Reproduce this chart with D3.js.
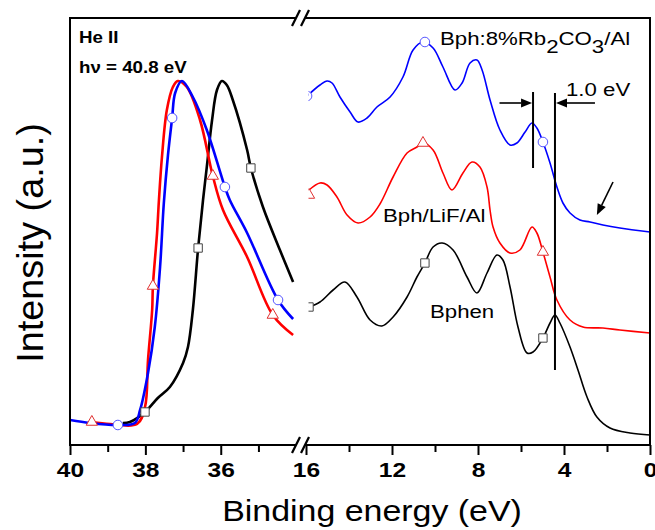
<!DOCTYPE html>
<html>
<head>
<meta charset="utf-8">
<script src="https://cdn.jsdelivr.net/npm/d3@7"></script>
<style>
  body { margin: 0; background: #fff; }
  svg { display: block; font-family: "Liberation Sans", Arial, sans-serif; }
</style>
</head>
<body>
<div id="chart"></div>
<script>
// binding energy (eV), intensity (a.u.)
const bphenLeft = [[38.6,22],[38.41,23],[38.01,33],[37.67,47],[37.35,58],[37.0,82],[36.87,98],[36.74,135],[36.6,197],[36.47,245],[36.37,278],[36.23,325],[36.1,355],[35.97,364],[35.84,360],[35.68,345],[35.3,295],[35.2,277],[34.88,238],[34.43,195],[34.08,163]];
const lifLeft = [[39.42,23],[38.94,21],[38.22,21],[38.01,38],[37.93,85],[37.82,135],[37.8,159],[37.69,212],[37.64,245],[37.56,288],[37.43,335],[37.27,358],[37.14,364],[36.9,358],[36.55,325],[36.21,269],[35.94,235],[35.3,188],[34.62,130],[34.08,110]];
const rbLeft = [[40.0,25],[39.47,22],[38.73,20],[38.28,22],[38.14,35],[37.93,72],[37.75,118],[37.61,178],[37.51,242],[37.4,290],[37.29,327],[37.21,352],[37.03,364],[36.74,348],[36.37,315],[35.89,258],[35.76,245],[35.3,212],[34.48,145],[34.08,126]];

const rbRight = [[15.95,349],[15.35,360],[15.02,364],[14.79,362],[14.42,348],[13.95,333],[13.58,323],[13.16,327],[12.7,338],[12.09,348],[11.49,368],[11.02,395],[10.56,403],[10.09,397],[9.63,378],[9.07,355],[8.74,362],[8.37,382],[8.05,385],[7.81,375],[7.44,345],[6.98,315],[6.51,300],[6.19,302],[5.81,313],[5.49,322],[5.26,317],[4.98,303],[4.65,282],[4.33,258],[4.05,242],[3.72,232],[3.26,225],[2.79,223],[2.19,220],[1.4,217],[0,213]];
const lifRight = [[15.86,255],[15.35,262],[15.02,260],[14.56,248],[14.09,230],[13.58,222],[13.02,228],[12.56,241],[11.95,268],[11.3,292],[10.84,298],[10.56,302],[10.09,295],[9.63,272],[9.21,255],[8.7,272],[8.28,283],[7.91,278],[7.58,258],[7.44,235],[7.3,218],[6.98,202],[6.51,192],[6.05,195],[5.49,218],[5.26,212],[4.98,193],[4.65,168],[4.33,145],[3.72,125],[3.12,118],[2.19,117],[1.4,115],[0,112]];
const bphenRight = [[15.86,138],[15.35,143],[14.74,155],[14.19,163],[13.63,148],[13.02,125],[12.47,119],[11.95,128],[11.3,148],[10.84,168],[10.47,182],[10.09,198],[9.67,202],[9.16,195],[8.51,168],[8.05,152],[7.58,172],[7.12,190],[6.84,185],[6.51,158],[6.14,118],[5.72,92],[5.44,93],[4.98,107],[4.65,122],[4.42,130],[4.19,122],[3.72,98],[3.35,75],[2.93,48],[2.47,28],[1.86,17],[0.93,12],[0,10]];

// marker positions
const rbMarksLeft = [[38.73,20],[37.29,327],[35.89,258],[34.48,145]];
const lifMarksLeft = [[39.42,23],[37.8,159],[36.21,269],[34.62,130]];
const bphenMarksLeft = [[38.01,33],[36.6,197],[35.2,277]];
const rbMarksRight = [[15.95,349],[10.47,403],[4.98,303]];
const lifMarksRight = [[15.86,250],[10.56,302],[4.98,193]];
const bphenMarksRight = [[15.86,138],[10.47,182],[4.98,107]];

const leftMajor = [40, 38, 36], leftMinor = [39, 37, 35];
const rightMajor = [16, 12, 8, 4, 0], rightMinor = [14, 10, 6, 2];

// onset lines: energy, from, to
const onsetLines = [[5.44, 277, 353], [4.42, 75, 352]];

const width = 655, height = 530;
const margin = { top: 18, bottom: 85, left: 70, right: 5 };
const stretch = 1.17;

const xL = d3.scaleLinear().domain([40, 33.95]).range([70, 298]);
const xR = d3.scaleLinear().domain([16, 0]).range([306, 650]);
const y = d3.scaleLinear().domain([0, 427]).range([height - margin.bottom, margin.top]);
const y0 = y(0), y1 = y(427);

const svg = d3.select("#chart").append("svg")
  .attr("width", width).attr("height", height);

const defs = svg.append("defs");
defs.append("clipPath").attr("id", "clipL").append("rect")
  .attr("x", 70).attr("y", y1).attr("width", 228).attr("height", y0 - y1);
defs.append("clipPath").attr("id", "clipR").append("rect")
  .attr("x", 308.5).attr("y", y1).attr("width", 650 - 308.5).attr("height", y0 - y1);

const series = [
  { left: bphenLeft, right: bphenRight, color: "#000", mark: d3.symbolSquare, size: 70, mStroke: "#444", ml: bphenMarksLeft, mr: bphenMarksRight },
  { left: lifLeft, right: lifRight, color: "#f00", mark: d3.symbolTriangle, size: 55, mStroke: "#e03030", ml: lifMarksLeft, mr: lifMarksRight },
  { left: rbLeft, right: rbRight, color: "#00f", mark: d3.symbolCircle, size: 72, mStroke: "#5555ff", ml: rbMarksLeft, mr: rbMarksRight }
];

const gL = svg.append("g").attr("clip-path", "url(#clipL)");
const gR = svg.append("g").attr("clip-path", "url(#clipR)");

const lineL = d3.line().x(d => xL(d[0])).y(d => y(d[1])).curve(d3.curveCatmullRom);
const lineR = d3.line().x(d => xR(d[0])).y(d => y(d[1])).curve(d3.curveCatmullRom);

series.forEach(s => {
  gL.append("path").attr("d", lineL(s.left)).attr("fill", "none")
    .attr("stroke", s.color).attr("stroke-width", 2.6);
  gR.append("path").attr("d", lineR(s.right)).attr("fill", "none")
    .attr("stroke", s.color).attr("stroke-width", 1.6).attr("stroke-linejoin", "round");
});
series.forEach(s => {
  gL.selectAll(null).data(s.ml).join("path")
    .attr("transform", d => `translate(${xL(d[0])},${y(d[1])})`)
    .attr("d", d3.symbol(s.mark, s.size))
    .attr("fill", "#fff").attr("stroke", s.mStroke).attr("stroke-width", 1);
  gR.selectAll(null).data(s.mr).join("path")
    .attr("transform", d => `translate(${xR(d[0])},${y(d[1])})`)
    .attr("d", d3.symbol(s.mark, s.size))
    .attr("fill", "#fff").attr("stroke", s.mStroke).attr("stroke-width", 1);
});

// axes
function tickAxis(scale, major, minor) {
  svg.append("g").attr("transform", `translate(0,${y0})`)
    .call(d3.axisBottom(scale).tickValues(minor).tickSize(7).tickFormat(""))
    .call(g => g.select(".domain").remove())
    .call(g => g.selectAll("line").attr("stroke-width", 2));
  svg.append("g").attr("transform", `translate(0,${y0})`)
    .call(d3.axisBottom(scale).tickValues(major).tickSize(10).tickFormat(d3.format("d")))
    .call(g => g.select(".domain").remove())
    .call(g => g.selectAll("line").attr("stroke-width", 2))
    .call(g => g.selectAll("text")
      .attr("y", 32).attr("dy", 0)
      .attr("transform", `scale(${stretch},1)`)
      .attr("font-size", 21).attr("font-weight", "bold")
      .attr("font-family", "Liberation Sans, Arial, sans-serif")
      .attr("fill", "#000"));
}
tickAxis(xL, leftMajor, leftMinor);
tickAxis(xR, rightMajor, rightMinor);

// frame with break
const frame = svg.append("g").attr("stroke", "#000").attr("stroke-width", 2).attr("fill", "none");
[y0, y1].forEach(yy => {
  frame.append("line").attr("x1", 69).attr("x2", 296).attr("y1", yy).attr("y2", yy);
  frame.append("line").attr("x1", 305).attr("x2", 651).attr("y1", yy).attr("y2", yy);
  [296, 305].forEach(xx => {
    frame.append("line").attr("x1", xx - 4).attr("y1", yy + 8)
      .attr("x2", xx + 4).attr("y2", yy - 8).attr("stroke-width", 2.2);
  });
});
frame.append("line").attr("x1", 70).attr("x2", 70).attr("y1", y1).attr("y2", y0 + 1);
frame.append("line").attr("x1", 650).attr("x2", 650).attr("y1", y1).attr("y2", y0 + 1);

// onset lines and arrows
const ann = svg.append("g").attr("stroke", "#000").attr("stroke-width", 2);
onsetLines.forEach(d => {
  ann.append("line").attr("x1", xR(d[0])).attr("x2", xR(d[0]))
    .attr("y1", y(d[1])).attr("y2", y(d[2]));
});
function arrow(xa, ya, xb, yb) {
  const ang = Math.atan2(yb - ya, xb - xa), L = 11, W = 4.5;
  const bx = xb - L * Math.cos(ang), by = yb - L * Math.sin(ang);
  ann.append("line").attr("x1", xa).attr("y1", ya).attr("x2", bx).attr("y2", by).attr("stroke-width", 1.6);
  ann.append("path").attr("stroke", "none").attr("fill", "#000")
    .attr("d", `M${xb},${yb}L${bx - W * Math.sin(ang)},${by + W * Math.cos(ang)}L${bx + W * Math.sin(ang)},${by - W * Math.cos(ang)}Z`);
}
arrow(xR(7.0), y(342), xR(onsetLines[0][0]) - 1, y(342));
arrow(xR(2.56), y(342), xR(onsetLines[1][0]) + 1, y(342));
arrow(xR(1.72), y(263), xR(2.47), y(230));

// text
function label(x, yy, txt, size, weight) {
  return svg.append("text")
    .attr("transform", `translate(${x},${yy}) scale(${stretch},1)`)
    .attr("font-size", size).attr("font-weight", weight || "normal")
    .text(txt);
}
label(79, 43, "He II", 16, "bold");
label(79, 73, "hν = 40.8 eV", 16, "bold");
label(566, 96, "1.0 eV", 19);
label(383, 222, "Bph/LiF/Al", 19);
label(430, 318, "Bphen", 19);
const rbText = label(440, 45, "Bph:8%Rb", 19);
rbText.append("tspan").attr("dy", 8).text("2");
rbText.append("tspan").attr("dy", -8).text("CO");
rbText.append("tspan").attr("dy", 8).text("3");
rbText.append("tspan").attr("dy", -8).text("/Al");

svg.append("text")
  .attr("transform", `translate(372,521) scale(${stretch},1)`)
  .attr("text-anchor", "middle").attr("font-size", 29)
  .text("Binding energy (eV)");

svg.append("text")
  .attr("transform", `translate(43,243) scale(${stretch},1.22) rotate(-90)`)
  .attr("text-anchor", "middle").attr("font-size", 31)
  .text("Intensity (a.u.)");
</script>
</body>
</html>
